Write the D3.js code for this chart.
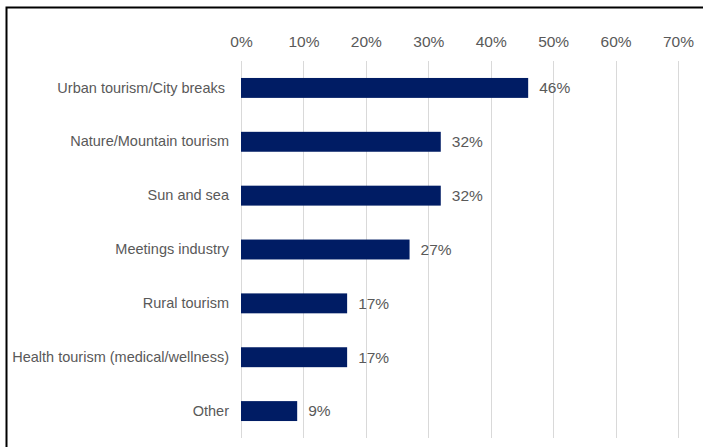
<!DOCTYPE html>
<html>
<head>
<meta charset="utf-8">
<script src="https://cdn.jsdelivr.net/npm/d3@7"></script>
<style>
  html, body { margin: 0; padding: 0; background: #fff; }
  svg { display: block; }
  text { font-family: "Liberation Sans", Arial, sans-serif; }
</style>
</head>
<body>
<script>
// Tourism product types, share of respondents
const categories = [
  "Urban tourism/City breaks ",
  "Nature/Mountain tourism",
  "Sun and sea",
  "Meetings industry",
  "Rural tourism",
  "Health tourism (medical/wellness)",
  "Other"
];
const values = [46, 32, 32, 27, 17, 17, 9];
const tickValues = [0, 10, 20, 30, 40, 50, 60, 70];

const W = 703, H = 447;
const svg = d3.select("body").append("svg").attr("width", W).attr("height", H);

// outer chart frame (runs off the right and bottom edges)
svg.append("rect")
  .attr("x", 6.5).attr("y", 7.5)
  .attr("width", W + 10).attr("height", H + 10)
  .attr("fill", "none").attr("stroke", "#000").attr("stroke-width", 2);

const x = d3.scaleLinear().domain([0, 70]).range([241, 678]);
const y = d3.scaleBand().domain(categories).range([61, 438]).paddingInner(0.63).paddingOuter(0.315);

// vertical gridlines
svg.append("g").selectAll("line").data(tickValues).join("line")
  .attr("x1", d => Math.round(x(d)) + 0.5).attr("x2", d => Math.round(x(d)) + 0.5)
  .attr("y1", 61).attr("y2", 438)
  .attr("stroke", "#d9d9d9").attr("stroke-width", 1);

// top axis labels
const axisTop = d3.axisTop(x).tickValues(tickValues).tickFormat(d => d + "%").tickSize(0).tickPadding(0);
const gx = svg.append("g").attr("transform", "translate(0,47)").call(axisTop);
gx.select(".domain").remove();
gx.selectAll("text").attr("font-size", 15.5).attr("fill", "#595959")
  .style("font-family", "'Liberation Sans', Arial, sans-serif");

// category labels
const gy = svg.append("g").attr("transform", "translate(229,0)")
  .call(d3.axisLeft(y).tickSize(0).tickPadding(0));
gy.select(".domain").remove();
gy.selectAll("text").attr("font-size", 14.5).attr("fill", "#595959")
  .style("white-space", "pre")
  .style("font-family", "'Liberation Sans', Arial, sans-serif");

// bars
svg.append("g").selectAll("rect").data(values).join("rect")
  .attr("x", x(0))
  .attr("y", (d, i) => y(categories[i]))
  .attr("width", d => x(d) - x(0))
  .attr("height", y.bandwidth())
  .attr("fill", "#001c64");

// value labels
svg.append("g").selectAll("text").data(values).join("text")
  .attr("x", d => x(d) + 11)
  .attr("y", (d, i) => y(categories[i]) + y.bandwidth() / 2)
  .attr("dy", "0.35em")
  .attr("font-size", 15.5).attr("fill", "#595959")
  .text(d => d + "%");
</script>
</body>
</html>
